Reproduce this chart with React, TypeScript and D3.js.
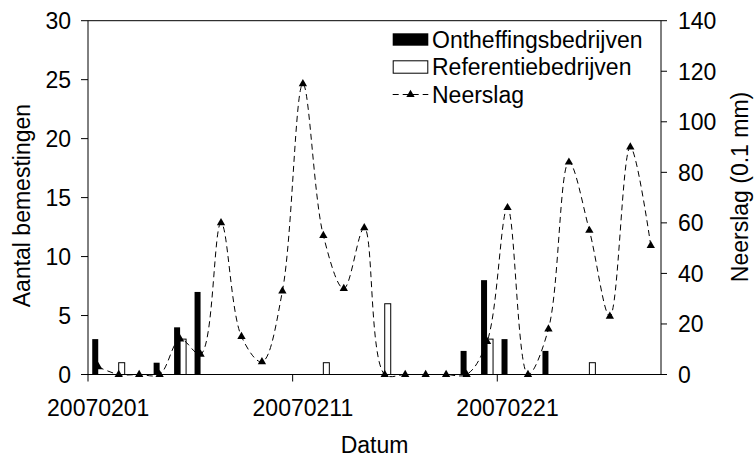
import React from "react";
import * as d3 from "d3";

const dates = [
  "20070201","20070202","20070203","20070204","20070205","20070206","20070207",
  "20070208","20070209","20070210","20070211","20070212","20070213","20070214",
  "20070215","20070216","20070217","20070218","20070219","20070220","20070221",
  "20070222","20070223","20070224","20070225","20070226","20070227","20070228",
];
const ontheffing = [3,0,0,1,4,7,0,0,0,0,0,0,0,0,0,0,0,0,2,8,3,0,2,0,0,0,0,0];
const referentie = [0,1,0,0,3,0,0,0,0,0,0,1,0,0,6,0,0,0,0,3,0,0,0,0,1,0,0,0];
const neerslag = [3,0,0,0,14,8,60,15,5,33,115,55,34,58,0,0,0,0,0,13,66,0,18,84,57,23,90,51];
const xTickLabels = ["20070201", "20070211", "20070221"];
const leftTicks = [0, 5, 10, 15, 20, 25, 30];
const rightTicks = [0, 20, 40, 60, 80, 100, 120, 140];
const legendLabels = ["Ontheffingsbedrijven", "Referentiebedrijven", "Neerslag"];

const FONT = "Arial, 'Liberation Sans', sans-serif";
const FS = 23;

export default function App() {
  const W = 755, H = 462;
  const L = 88, R = 661, T = 20.7, B = 374.5;
  const x = d3.scaleLinear().domain([0, dates.length]).range([L, R]);
  const yL = d3.scaleLinear().domain([0, 30]).range([B, T]);
  const yR = d3.scaleLinear().domain([0, 140]).range([B, T]);
  const step = x(1) - x(0);
  const bw = step * 0.293;
  const cx = (i: number) => x(i + 0.5);

  const line = d3.line<number>()
    .x((_, i) => cx(i))
    .y((d) => yR(d))
    .curve(d3.curveCatmullRom.alpha(0.5));
  const tri = d3.symbol().type(d3.symbolTriangle).size(30)();

  const legendY = [39.5, 67, 94.5];
  const lgX0 = 392.7, lgX1 = 428.3, lgText = 432;

  return (
    <svg width={W} height={H} style={{ position: "absolute", left: 0, top: 0 }} fontFamily={FONT}>
      <rect width={W} height={H} fill="white" />
      {/* bars */}
      {ontheffing.map((v, i) =>
        v > 0 ? (
          <rect key={"o" + i} x={cx(i) - bw} y={yL(v)} width={bw} height={B - yL(v)} fill="black" />
        ) : null
      )}
      {referentie.map((v, i) =>
        v > 0 ? (
          <rect key={"r" + i} x={cx(i)} y={yL(v)} width={bw} height={B - yL(v)} fill="white" stroke="black" strokeWidth={1} />
        ) : null
      )}
      {/* line */}
      <path d={line(neerslag) || ""} fill="none" stroke="black" strokeWidth={1} strokeDasharray="6,4" />
      {neerslag.map((v, i) => (
        <path key={"t" + i} d={tri || ""} transform={`translate(${cx(i)},${yR(v)})`} fill="black" />
      ))}
      {/* axes */}
      <line x1={L} x2={L} y1={T} y2={B} stroke="black" />
      <line x1={R} x2={R} y1={T} y2={B} stroke="black" />
      <line x1={L} x2={R} y1={B} y2={B} stroke="black" />
      <line x1={L} x2={R} y1={T} y2={T} stroke="black" />
      {leftTicks.map((t) => (
        <g key={"l" + t}>
          <line x1={L - 7} x2={L} y1={yL(t)} y2={yL(t)} stroke="black" />
          <text x={L - 17} y={yL(t)} dy="0.36em" textAnchor="end" fontSize={FS}>{t}</text>
        </g>
      ))}
      {rightTicks.map((t) => (
        <g key={"rt" + t}>
          <line x1={R} x2={R + 6} y1={yR(t)} y2={yR(t)} stroke="black" />
          <text x={R + 17} y={yR(t)} dy="0.36em" textAnchor="start" fontSize={FS}>{t}</text>
        </g>
      ))}
      {xTickLabels.map((lab) => {
        const i = dates.indexOf(lab);
        return (
          <g key={"x" + lab}>
            <line x1={x(i)} x2={x(i)} y1={B} y2={B + 7} stroke="black" />
            <text x={cx(i)} y={416} textAnchor="middle" fontSize={FS}>{lab}</text>
          </g>
        );
      })}
      {/* titles */}
      <text x={(L + R) / 2} y={453} textAnchor="middle" fontSize={FS}>Datum</text>
      <text transform={`translate(29.5,${(T + B) / 2 + 8}) rotate(-90)`} textAnchor="middle" fontSize={FS}>Aantal bemestingen</text>
      <text transform={`translate(748,${187}) rotate(-90)`} textAnchor="middle" fontSize={FS}>Neerslag (0.1 mm)</text>
      {/* legend */}
      <rect x={lgX0} y={legendY[0] - 6.2} width={lgX1 - lgX0} height={12.4} fill="black" />
      <rect x={lgX0 + 0.5} y={legendY[1] - 6.2} width={lgX1 - lgX0 - 1} height={12.4} fill="white" stroke="black" />
      <line x1={lgX0} x2={lgX1} y1={legendY[2]} y2={legendY[2]} stroke="black" strokeDasharray="6,4" />
      <path d={tri || ""} transform={`translate(${(lgX0 + lgX1) / 2},${legendY[2]})`} fill="black" />
      {legendLabels.map((lab, k) => (
        <text key={lab} x={lgText} y={legendY[k]} dy="0.36em" fontSize={FS}>{lab}</text>
      ))}
    </svg>
  );
}
